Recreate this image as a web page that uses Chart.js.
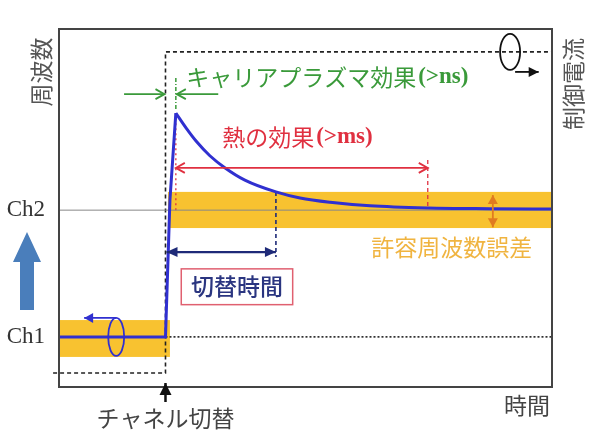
<!DOCTYPE html>
<html>
<head>
<meta charset="utf-8">
<script src="https://cdn.jsdelivr.net/npm/chart.js@4/dist/chart.umd.min.js"></script>
<style>
  body { margin: 0; background: #fff; }
</style>
</head>
<body>
<canvas id="chart" width="592" height="435"></canvas>
<script>
// frequency response after a channel switch (arbitrary units 0..100)
const timeAxis = [0, 21.6, 22.5, 23.7, 25.8, 27.8, 30.6, 33.7, 37.7, 44.0, 48.9, 55.0, 63.1, 74.8, 87.4, 100];
const frequency = [14, 14, 52.2, 76.5, 72.3, 68.7, 64.6, 61.2, 57.8, 54.5, 52.8, 51.6, 50.6, 50.0, 49.8, 49.7];
const peakIndex = 3;
// control current step (right axis)
const controlTime = [-1.2, 21.6, 21.6, 100];
const controlCurrent = [3.9, 3.9, 93.6, 93.6];
// channel levels and tolerance bands
const channelNames = ['Ch1', 'Ch2'];
const channelLevels = [14, 49.4];
const toleranceLow = [8.4, 44.4];
const toleranceHigh = [18.7, 54.5];
const toleranceStart = [0, 22.1];
const toleranceEnd = [22.5, 100];
// event times
const switchTime = 21.6;
const plasmaEnd = 23.7;
const settleTime = 44.0;
const thermalEnd = 74.8;

const cjk = '"Noto Sans CJK JP", sans-serif';

function pts(xs, ys) {
    return xs.map((x, i) => ({ x: x, y: ys[i] }));
}

function line(data, color, width, dash) {
    return {
        data: data, showLine: true, pointRadius: 0, borderColor: color,
        borderWidth: width, borderDash: dash || [], clip: false, tension: 0
    };
}

function head(ctx, x1, y1, x2, y2, len, wid, filled) {
    const a = Math.atan2(y2 - y1, x2 - x1);
    const bx = x2 - len * Math.cos(a), by = y2 - len * Math.sin(a);
    const px = -Math.sin(a) * wid, py = Math.cos(a) * wid;
    ctx.beginPath();
    ctx.moveTo(bx + px, by + py);
    ctx.lineTo(x2, y2);
    ctx.lineTo(bx - px, by - py);
    if (filled) { ctx.closePath(); ctx.fill(); } else { ctx.stroke(); }
}

function arrow(ctx, x1, y1, x2, y2, color, width, both, filled, len, wid) {
    len = len || 9; wid = wid || 5;
    ctx.save();
    ctx.strokeStyle = color; ctx.fillStyle = color; ctx.lineWidth = width;
    ctx.setLineDash([]);
    ctx.beginPath(); ctx.moveTo(x1, y1); ctx.lineTo(x2, y2); ctx.stroke();
    head(ctx, x1, y1, x2, y2, len, wid, filled);
    if (both) head(ctx, x2, y2, x1, y1, len, wid, filled);
    ctx.restore();
}

function text(ctx, str, x, y, color, font, align, angle) {
    ctx.save();
    ctx.translate(x, y);
    if (angle) ctx.rotate(angle);
    ctx.fillStyle = color; ctx.font = font;
    ctx.textAlign = align || 'left'; ctx.textBaseline = 'middle';
    ctx.fillText(str, 0, 0);
    ctx.restore();
}

const bands = {
    id: 'bands',
    beforeDatasetsDraw(chart) {
        const { ctx, scales: { x, y } } = chart;
        ctx.save();
        ctx.fillStyle = '#f8c230';
        toleranceLow.forEach((lo, i) => {
            const x0 = x.getPixelForValue(toleranceStart[i]);
            const x1 = x.getPixelForValue(toleranceEnd[i]);
            const y0 = y.getPixelForValue(toleranceHigh[i]);
            const y1 = y.getPixelForValue(lo);
            ctx.fillRect(x0, y0, x1 - x0, y1 - y0);
        });
        ctx.restore();
    },
    afterDatasetsDraw(chart) {
        const { ctx, chartArea: a, scales: { x, y } } = chart;
        const X = v => x.getPixelForValue(v), Y = v => y.getPixelForValue(v);

        // frame
        ctx.save();
        ctx.strokeStyle = '#444'; ctx.lineWidth = 2;
        ctx.strokeRect(a.left, a.top, a.right - a.left, a.bottom - a.top);
        ctx.restore();

        // green: carrier plasma effect
        const gy = Y(81.8);
        arrow(ctx, X(13.2), gy, X(switchTime) - 1, gy, '#3a9a3a', 1.8, false, false);
        arrow(ctx, X(32.3), gy, X(plasmaEnd) + 1, gy, '#3a9a3a', 1.8, false, false);
        text(ctx, 'キャリアプラズマ効果', X(25.8), Y(86.6), '#3a9a3a', '23px ' + cjk);
        ctx.save();
        ctx.font = '23px ' + cjk;
        const gw = ctx.measureText('キャリアプラズマ効果').width;
        ctx.restore();
        text(ctx, '(>ns)', X(25.8) + gw + 2, Y(86.6), '#3a9a3a', 'bold 23px "Liberation Serif"');

        // red: thermal effect
        const ry = Y(61.2);
        arrow(ctx, X(plasmaEnd), ry, X(thermalEnd), ry, '#e03040', 1.8, true, false);
        text(ctx, '熱の効果', X(33.1), Y(69.8), '#e03040', '23px ' + cjk);
        ctx.save();
        ctx.font = '23px ' + cjk;
        const rw = ctx.measureText('熱の効果').width;
        ctx.restore();
        text(ctx, '(>ms)', X(33.1) + rw + 2, Y(69.8), '#e03040', 'bold 23px "Liberation Serif"');

        // navy: switching time
        const ny = Y(37.7);
        arrow(ctx, X(switchTime) + 1, ny, X(settleTime), ny, '#1e2a78', 2.2, true, true, 11, 5);
        const bx0 = X(24.8), bx1 = X(47.4), by0 = Y(33.0), by1 = Y(23.0);
        ctx.save();
        ctx.fillStyle = '#fff'; ctx.fillRect(bx0, by0, bx1 - bx0, by1 - by0);
        ctx.strokeStyle = '#e06070'; ctx.lineWidth = 1.5;
        ctx.strokeRect(bx0, by0, bx1 - bx0, by1 - by0);
        ctx.restore();
        text(ctx, '切替時間', (bx0 + bx1) / 2, (by0 + by1) / 2, '#2a3580', '500 23px ' + cjk, 'center');

        // orange: allowed frequency error
        arrow(ctx, X(88.0), Y(53.6), X(88.0), Y(44.6), '#e07b20', 1.8, true, true);
        text(ctx, '許容周波数誤差', X(96.0), Y(39.1), '#f0b440', '23px ' + cjk, 'right');

        // blue ellipse on Ch1 with arrow to frequency axis
        const ex = X(11.6), ey = Y(channelLevels[0]);
        ctx.save();
        ctx.strokeStyle = '#3030d0'; ctx.lineWidth = 1.8;
        ctx.beginPath(); ctx.ellipse(ex, ey, 8, 19, 0, 0, Math.PI * 2); ctx.stroke();
        ctx.restore();
        arrow(ctx, ex, ey - 19, X(5.1), ey - 19, '#3030d0', 1.8, false, true);

        // black ellipse on control current with arrow to right axis
        const cx = X(91.5), cy = Y(93.6);
        ctx.save();
        ctx.strokeStyle = '#111'; ctx.lineWidth = 1.8;
        ctx.beginPath(); ctx.ellipse(cx, cy, 10, 18, 0, 0, Math.PI * 2); ctx.stroke();
        ctx.restore();
        arrow(ctx, cx + 5, cy + 20, X(97.3), cy + 20, '#111', 1.8, false, true, 10, 5);

        // channel switch marker below the axis
        arrow(ctx, X(switchTime), a.bottom + 15, X(switchTime), a.bottom - 4, '#111', 2.5, false, true, 12, 6);

        // big blue up arrow beside the frequency axis
        const ux = a.left - 32, uy0 = Y(21.5), uy1 = Y(43.3);
        ctx.save();
        ctx.fillStyle = '#4a7ebb';
        ctx.beginPath();
        ctx.moveTo(ux - 7, uy0); ctx.lineTo(ux - 7, uy1 + 30); ctx.lineTo(ux - 14, uy1 + 30);
        ctx.lineTo(ux, uy1); ctx.lineTo(ux + 14, uy1 + 30); ctx.lineTo(ux + 7, uy1 + 30);
        ctx.lineTo(ux + 7, uy0); ctx.closePath(); ctx.fill();
        ctx.restore();

        // axis titles
        text(ctx, '周波数', a.left - 18, a.top + 43, '#555', '23px ' + cjk, 'center', -Math.PI / 2);
        text(ctx, '制御電流', a.right + 21, a.top + 55, '#555', '23px ' + cjk, 'center', -Math.PI / 2);
        text(ctx, 'チャネル切替', X(switchTime), a.bottom + 31, '#444', '23px ' + cjk, 'center');
        text(ctx, '時間', a.right - 2, a.bottom + 18, '#444', '23px ' + cjk, 'right');
    }
};

// rise is straight, decay after the peak is smoothed
const rise = line(pts(timeAxis.slice(0, peakIndex + 1), frequency.slice(0, peakIndex + 1)), '#3030d0', 3);
const decay = line(pts(timeAxis.slice(peakIndex), frequency.slice(peakIndex)), '#3030d0', 3);
decay.cubicInterpolationMode = 'monotone';

new Chart(document.getElementById('chart'), {
    type: 'scatter',
    data: {
        datasets: [
            rise,
            decay,
            line(pts([0, 100], [channelLevels[1], channelLevels[1]]), '#888', 1),
            line(pts([switchTime, 100], [channelLevels[0], channelLevels[0]]), '#222', 1.6, [2, 2]),
            line(pts([0, switchTime], [channelLevels[0], channelLevels[0]]), '#333', 1.2),
            line(pts(controlTime, controlCurrent), '#222', 1.6, [4, 3]),
            line(pts([settleTime, settleTime], [54.5, 36.3]), '#1e2a78', 1.6, [4, 3]),
            line(pts([thermalEnd, thermalEnd], [63.4, 50.0]), '#e03040', 1.3, [4, 3]),
            line(pts([plasmaEnd, plasmaEnd], [76.5, 49.4]), '#e03040', 1.3, [2, 3]),
            line(pts([plasmaEnd, plasmaEnd], [86.3, 77.6]), '#3a9a3a', 1.5, [4, 2, 1, 2])
        ]
    },
    options: {
        responsive: false,
        animation: false,
        devicePixelRatio: 1,
        layout: { padding: { top: 29, right: 40, bottom: 48, left: 0 } },
        plugins: { legend: { display: false }, tooltip: { enabled: false } },
        scales: {
            x: { type: 'linear', min: 0, max: 100, display: false },
            y: {
                type: 'linear', min: 0, max: 100,
                afterFit(s) { s.width = 59; },
                afterBuildTicks(s) { s.ticks = channelLevels.map(v => ({ value: v })); },
                grid: { display: false, drawTicks: false },
                border: { display: false },
                ticks: {
                    autoSkip: false,
                    padding: 14,
                    color: '#333',
                    font: { family: 'Liberation Serif', size: 23 },
                    callback: (v, i) => channelNames[i]
                }
            }
        }
    },
    plugins: [bands]
});
</script>
</body>
</html>
